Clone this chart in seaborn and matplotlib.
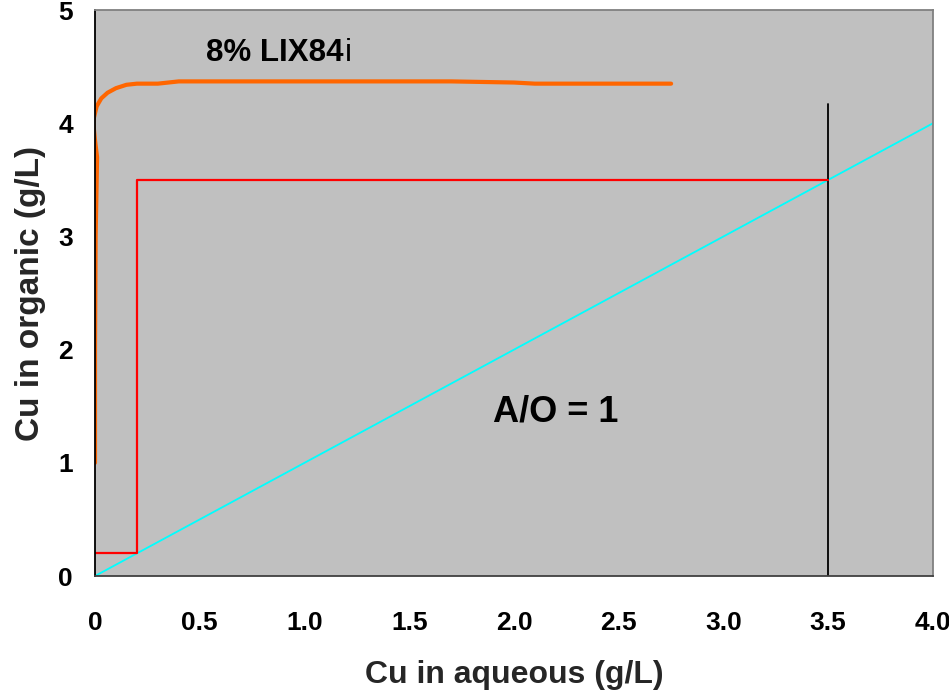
import matplotlib
matplotlib.use("Agg")
import matplotlib.pyplot as plt
import seaborn as sns

# Extraction isotherm, 8% LIX84i
iso_aq = [0.0, 0.0, 0.003, 0.008, 0.01, 0.0, -0.008, -0.005, 0.008, 0.03, 0.06, 0.1, 0.15, 0.2, 0.3, 0.4, 1.0, 1.7, 2.0, 2.1, 2.4, 2.75]
iso_org = [1.0, 2.0, 3.0, 3.5, 3.7, 3.85, 4.0, 4.05, 4.15, 4.22, 4.27, 4.31, 4.34, 4.35, 4.35, 4.37, 4.37, 4.37, 4.36, 4.35, 4.35, 4.35]

# McCabe-Thiele staircase (operating path)
stage_aq = [0.0, 0.2, 0.2, 3.5]
stage_org = [0.2, 0.2, 3.5, 3.5]

# Operating line A/O = 1
op_aq = [0.0, 4.0]
op_org = [0.0, 4.0]

# Feed aqueous concentration marker
feed_aq = [3.5, 3.5]
feed_org = [0.0, 4.17]

x_ticks = [0.0, 0.5, 1.0, 1.5, 2.0, 2.5, 3.0, 3.5, 4.0]
x_ticklabels = ["0", "0.5", "1.0", "1.5", "2.0", "2.5", "3.0", "3.5", "4.0"]
y_ticks = [0, 1, 2, 3, 4, 5]

sns.set_theme(style="white")
plt.rcParams["font.family"] = ["Liberation Sans", "DejaVu Sans"]

fig = plt.figure(figsize=(9.49, 6.91), dpi=100)
ax = fig.add_axes([0.1001, 0.1664, 0.883, 0.819])
ax.set_facecolor("#C0C0C0")

line_kw = dict(ax=ax, sort=False, estimator=None)
sns.lineplot(x=op_aq, y=op_org, color="#00FFFF", linewidth=1.3, **line_kw)
sns.lineplot(x=feed_aq, y=feed_org, color="black", linewidth=1.3, **line_kw)
sns.lineplot(x=stage_aq, y=stage_org, color="#FF0000", linewidth=1.6, **line_kw)
sns.lineplot(x=iso_aq, y=iso_org, color="#FF6600", linewidth=3.0, **line_kw)

ax.set_xlim(0, 4.0)
ax.set_ylim(0, 5)
ax.set_xticks(x_ticks)
ax.set_xticklabels(x_ticklabels)
ax.set_yticks(y_ticks)

ax.tick_params(axis="x", direction="out", length=7, width=1.3, pad=18,
               labelsize=19, colors="black")
ax.tick_params(axis="y", direction="out", length=6, width=1.3, pad=10,
               labelsize=19, colors="black")
for lab in ax.get_xticklabels() + ax.get_yticklabels():
    lab.set_fontweight("bold")

ax.spines["left"].set_color("black")
ax.spines["bottom"].set_color("#404040")
ax.spines["right"].set_color("#808080")
ax.spines["top"].set_color("#808080")
for s in ax.spines.values():
    s.set_linewidth(1.3)
    s.set_visible(True)

ax.set_xlabel("Cu in aqueous (g/L)", fontsize=23, fontweight="bold", labelpad=18)
ax.set_ylabel("Cu in organic (g/L)", fontsize=24, fontweight="bold", labelpad=9)

# Series label: bold reagent name with a regular-weight suffix
name = ax.text(0.86, 4.62, "8% LIX84", fontsize=22.5, fontweight="bold",
               ha="center", va="center", color="black")
ax.annotate("i", xy=(1, 0), xycoords=name, xytext=(1, 0),
            textcoords="offset points", fontsize=22.5, fontweight="normal",
            ha="left", va="bottom", color="black")

ax.text(2.2, 1.45, "A/O = 1", fontsize=26, fontweight="bold",
        ha="center", va="center", color="black")

ax.grid(False)
fig.savefig("out.png", dpi=100)
